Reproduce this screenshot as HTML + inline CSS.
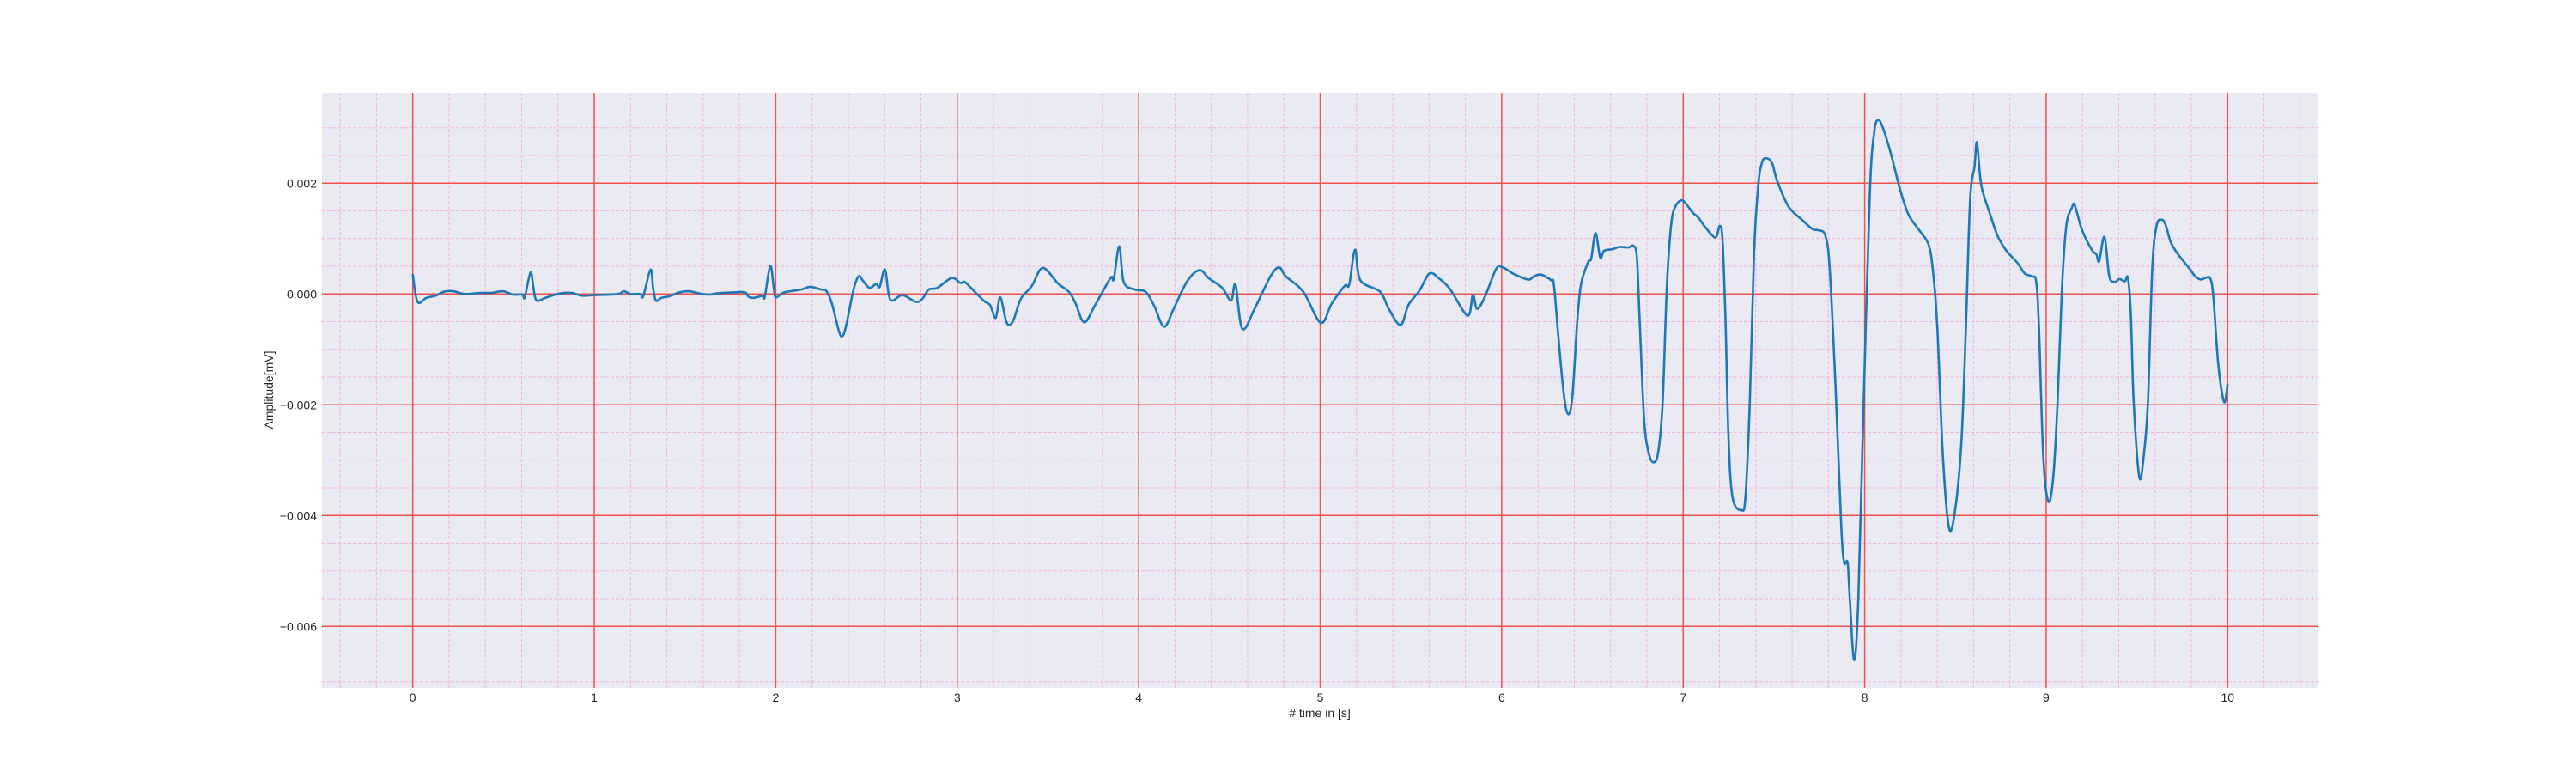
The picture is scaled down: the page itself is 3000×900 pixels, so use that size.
<!DOCTYPE html>
<html><head><meta charset="utf-8"><style>
html,body{margin:0;padding:0;background:#fff;}
svg{display:block;font-family:"Liberation Sans",Arial,sans-serif;}
</style></head><body>
<svg id="chart" width="3000" height="900" viewBox="0 0 3000 900">
<rect x="375" y="108" width="2325" height="693" fill="#EAEAF2"/>
<g id="grid"></g>
<g id="ticks"></g>
<path id="ecg" fill="none" stroke="#1f77b4" stroke-width="2.6" stroke-linejoin="round"/>
<text x="1537" y="835" font-size="14" text-anchor="middle" fill="#262626"># time in [s]</text>
<text x="318" y="454" font-size="14" text-anchor="middle" fill="#262626" transform="rotate(-90 318 454)">Amplitude[mV]</text>
</svg>
<script>
const times = [0,0.026,0.075,0.128,0.17,0.222,0.286,0.37,0.434,0.497,0.55,0.603,0.617,0.649,0.666,0.683,0.73,0.81,0.876,0.93,1.0,1.13,1.163,1.2,1.255,1.27,1.31,1.325,1.34,1.37,1.415,1.47,1.52,1.595,1.64,1.67,1.767,1.83,1.85,1.88,1.93,1.94,1.97,1.99,2.0,2.04,2.08,2.14,2.19,2.25,2.28,2.31,2.35,2.37,2.39,2.43,
2.457,2.48,2.517,2.553,2.573,2.602,2.631,2.698,2.77,2.807,2.843,2.891,2.969,3.017,3.04,3.073,3.145,3.181,3.212,3.237,3.273,3.307,3.35,3.41,3.471,3.555,3.615,3.652,3.7,3.76,3.845,3.862,3.893,3.917,3.978,4.038,4.086,4.14,4.195,4.267,4.335,4.388,4.46,4.509,4.533,4.571,4.641,4.726,4.774,4.81,4.907,5.003,5.064,5.136,5.16,5.192,5.221,5.33,5.378,5.443,5.486,5.547,5.602,5.655,5.715,5.812,5.841,5.865,5.909,5.969,6.005,
6.068,6.146,6.178,6.217,6.272,6.288,6.312,6.343,6.367,6.39,6.417,6.438,6.477,6.493,6.517,6.543,6.564,6.611,6.65,6.698,6.726,6.745,6.76,6.784,6.808,6.836,6.863,6.887,6.91,6.934,6.957,6.989,7.013,7.052,7.083,7.123,7.178,7.202,7.217,7.233,7.249,7.272,7.32,7.343,7.367,7.39,7.414,7.435,7.46,7.49,7.517,7.58,7.658,7.713,7.745,7.784,7.808,7.839,7.871,7.887,7.906,7.918,7.942,7.965,7.992,
8.028,8.052,8.076,8.107,8.147,8.194,8.242,8.305,8.352,8.376,8.4,8.431,8.466,8.502,8.534,8.558,8.581,8.605,8.618,8.637,8.652,8.692,8.731,8.779,8.842,8.882,8.921,8.945,8.96,8.984,9.013,9.04,9.063,9.087,9.111,9.142,9.158,9.197,9.253,9.276,9.292,9.321,9.348,9.379,9.403,9.434,9.45,9.466,9.482,9.513,9.537,9.561,9.584,9.608,9.639,9.66,9.687,9.726,9.789,9.821,9.853,9.877,9.904,9.921,9.948,9.98,10.0];
const amplitudes = [0.36,-0.14,-0.07,-0.03,0.04,0.05,0,0.02,0.02,0.05,-0.01,-0.01,-0.06,0.39,0.08,-0.12,-0.07,0.01,0.02,-0.03,-0.02,0,0.05,0,0,-0.04,0.44,0.09,-0.12,-0.07,-0.04,0.03,0.05,0,-0.01,0.01,0.03,0.03,-0.05,-0.07,-0.03,-0.05,0.51,0.09,-0.06,0.02,0.05,0.08,0.13,0.08,0.05,-0.18,-0.69,-0.75,-0.54,0.1,
0.32,0.24,0.11,0.18,0.13,0.44,-0.10,-0.02,-0.14,-0.09,0.08,0.11,0.29,0.2,0.22,0.12,-0.12,-0.2,-0.43,-0.06,-0.52,-0.49,-0.09,0.14,0.47,0.19,0.04,-0.17,-0.51,-0.2,0.29,0.27,0.86,0.22,0.08,0.04,-0.22,-0.59,-0.25,0.23,0.43,0.28,0.11,-0.12,0.17,-0.63,-0.25,0.32,0.48,0.32,0.04,-0.52,-0.17,0.15,0.17,0.8,0.25,0.04,-0.27,-0.56,-0.2,0.06,0.37,0.28,0.09,-0.39,-0.02,-0.27,-0.04,0.45,0.48,
0.36,0.26,0.32,0.35,0.25,0.16,-0.76,-1.83,-2.17,-1.83,-0.46,0.19,0.58,0.64,1.1,0.66,0.78,0.81,0.85,0.84,0.87,0.66,-0.46,-2.24,-2.84,-3.04,-2.84,-1.95,0.13,1.26,1.58,1.69,1.64,1.47,1.38,1.2,1.02,1.23,0.96,-0.46,-2.54,-3.67,-3.9,-3.67,-1.95,0.72,1.97,2.38,2.45,2.36,2.05,1.58,1.33,1.17,1.15,1.05,0.43,-1.65,-4.2,-4.85,-4.85,-5.51,-6.61,-5.51,-2.24,
1.77,2.91,3.14,2.94,2.5,1.9,1.43,1.13,0.89,0.42,-0.58,-2.93,-4.24,-3.81,-2.6,-0.58,1.7,2.3,2.74,2.1,1.83,1.43,1.06,0.79,0.56,0.37,0.32,0.22,-0.58,-2.93,-3.75,-3.27,-1.93,0.09,1.23,1.56,1.6,1.16,0.79,0.72,0.59,1.03,0.32,0.22,0.27,0.23,0.29,-0.32,-1.93,-3.3,-2.93,-1.93,0.42,1.23,1.34,1.23,0.93,0.72,0.46,0.32,0.26,0.29,0.28,-0.05,-1.26,-1.95,-1.62];
const xTickLabels = ["0","1","2","3","4","5","6","7","8","9","10"];
const yTickValues = [0.002,0,-0.002,-0.004,-0.006];
const yTickLabels = ["0.002","0.000","\u22120.002","\u22120.004","\u22120.006"];

const L=375,R=2700,T=108,B=801;
const xMin=-0.5,xMax=10.5;
function xs(t){return L+(t-xMin)/(xMax-xMin)*(R-L);}
function ys(v){return 342.3-(v/0.001)*64.5;}
const NS="http://www.w3.org/2000/svg";
const grid=document.getElementById('grid'), ticks=document.getElementById('ticks');
function line(x1,y1,x2,y2,stroke,w,dash,name){
  const l=document.createElementNS(NS,'line');
  l.setAttribute('x1',x1);l.setAttribute('y1',y1);l.setAttribute('x2',x2);l.setAttribute('y2',y2);
  l.setAttribute('stroke',stroke);l.setAttribute('stroke-width',w);
  if(dash)l.setAttribute('stroke-dasharray',dash);
  
  
  grid.appendChild(l);
}
for(let i=-2;i<=52;i++){const t=i*0.2;if(Math.abs(t-Math.round(t))<1e-6)continue;const x=xs(t);if(x<L||x>R)continue;line(x,T,x,B,'#f4b4e4',1,'4,2','minor-grid-x');}
for(let i=-14;i<=7;i++){const v=i*0.0005;if(i%4===0)continue;const y=ys(v);if(y<T||y>B)continue;line(L,y,R,y,'#f4b4e4',1,'4,2','minor-grid-y');}
xTickLabels.forEach(s=>{const x=xs(parseFloat(s));line(x,T,x,B,'#f05050',1.5,null,'major-grid-x');
  const tx=document.createElementNS(NS,'text');tx.setAttribute('x',x);tx.setAttribute('y',817);tx.setAttribute('font-size','14');tx.setAttribute('text-anchor','middle');tx.setAttribute('fill','#262626');tx.textContent=s;
  
  
  ticks.appendChild(tx);});
yTickValues.forEach((v,i)=>{const y=ys(v);line(L,y,R,y,'#f05050',1.5,null,'major-grid-y');
  const tx=document.createElementNS(NS,'text');tx.setAttribute('x',369);tx.setAttribute('y',y+5);tx.setAttribute('font-size','14');tx.setAttribute('text-anchor','end');tx.setAttribute('fill','#262626');tx.textContent=yTickLabels[i];
  
  
  ticks.appendChild(tx);});
const pts=times.map((t,i)=>[xs(t),ys(amplitudes[i]*0.001)]);
let d='M'+pts[0][0].toFixed(1)+','+pts[0][1].toFixed(1);
for(let i=0;i<pts.length-1;i++){
  const p0=pts[Math.max(0,i-1)],p1=pts[i],p2=pts[i+1],p3=pts[Math.min(pts.length-1,i+2)];
  const k=1/6;
  const c1x=p1[0]+(p2[0]-p0[0])*k,c1y=p1[1]+(p2[1]-p0[1])*k;
  const c2x=p2[0]-(p3[0]-p1[0])*k,c2y=p2[1]-(p3[1]-p1[1])*k;
  d+=' C'+c1x.toFixed(1)+','+c1y.toFixed(1)+' '+c2x.toFixed(1)+','+c2y.toFixed(1)+' '+p2[0].toFixed(1)+','+p2[1].toFixed(1);
}
document.getElementById('ecg').setAttribute('d',d);
</script>
</body></html>
